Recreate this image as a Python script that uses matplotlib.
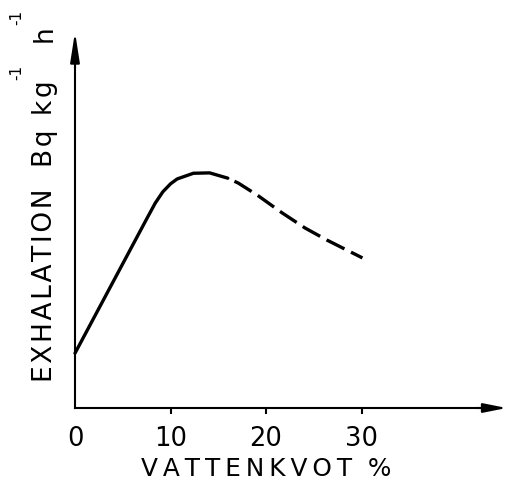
import matplotlib
matplotlib.use("Agg")
import matplotlib.pyplot as plt

# data
water_solid = [0, 7.5, 8.4, 9.2, 10.0, 10.7, 12.4, 14.1, 16.0]
exh_solid = [14.5, 50.0, 54.2, 57.2, 59.3, 60.6, 62.1, 62.2, 60.8]
water_dashed = [16.0, 17.1, 19.1, 21.7, 24.1, 26.4, 30.1]
exh_dashed = [60.8, 59.5, 56.3, 51.6, 47.6, 44.4, 39.7]
xticks = [0, 10, 20, 30]
xticklabels = ["0", "10", "20", "30"]
xlabel = "V\u2009A\u2009T\u2009T\u2009E\u2009N\u2009K\u2009V\u2009O\u2009T  %"
ylabel_parts = ["E\u200aX\u200aH\u200aA\u200aL\u200aA\u200aT\u200aI\u200aO\u200aN",
                "B\u200aq", "k\u200ag", "h"]
ylabel_sups = ["-1", "-1"]

plt.rcParams['font.family'] = ['DejaVu Sans']

fig = plt.figure(figsize=(5.08, 4.88), dpi=100)
ax = fig.add_axes([0, 0, 1, 1])
ax.set_xlim(-75 / 9.55, (508 - 75) / 9.55)
ax.set_ylim(-80 / 3.78, 408 / 3.78)

ax.plot(water_solid, exh_solid, color='black', lw=2.4, solid_capstyle='round',
        solid_joinstyle='round')
ax.plot(water_dashed, exh_dashed, color='black', lw=2.4,
        linestyle=(6.0, (6.0, 2.2)), dash_capstyle='butt')

for s in ['top', 'right']:
    ax.spines[s].set_visible(False)
ax.spines['left'].set_position(('data', 0))
ax.spines['bottom'].set_position(('data', 0))
ax.spines['left'].set_bounds(0, 95)
ax.spines['bottom'].set_bounds(0, 43)
ax.spines['left'].set_linewidth(1.5)
ax.spines['bottom'].set_linewidth(1.5)

# arrow heads
ax.annotate('', xy=(45.2, 0), xytext=(42.0, 0),
            arrowprops=dict(arrowstyle='-|>,head_length=1.4,head_width=0.28',
                            color='black', lw=1.5, shrinkA=0, shrinkB=0))
ax.annotate('', xy=(0, 99.5), xytext=(0, 90),
            arrowprops=dict(arrowstyle='-|>,head_length=1.8,head_width=0.28',
                            color='black', lw=1.5, shrinkA=0, shrinkB=0))

ax.set_yticks([])
ax.set_xticks(xticks)
ax.set_xticklabels(xticklabels, fontsize=18.5)
ax.tick_params(axis='x', direction='out', length=4, width=1.5, pad=9)
ax.xaxis.get_major_ticks()[0].tick1line.set_visible(False)

fig.text(266 / 508, 1 - 476 / 488, xlabel,
         fontsize=17.8, ha='center', va='baseline')

# y label, placed word by word (pixel positions along the rotated baseline)
W, H = 508, 488
part_starts = [382, 167, 115, 42]
for txt, py in zip(ylabel_parts, part_starts):
    fig.text(52 / W, 1 - py / H, txt, fontsize=19, rotation=90,
             rotation_mode='anchor', ha='left', va='baseline')
sup_starts = [80, 25]
for txt, py in zip(ylabel_sups, sup_starts):
    fig.text(21 / W, 1 - py / H, txt, fontsize=11, rotation=90,
             rotation_mode='anchor', ha='left', va='baseline')

fig.savefig("out.png", dpi=100)
